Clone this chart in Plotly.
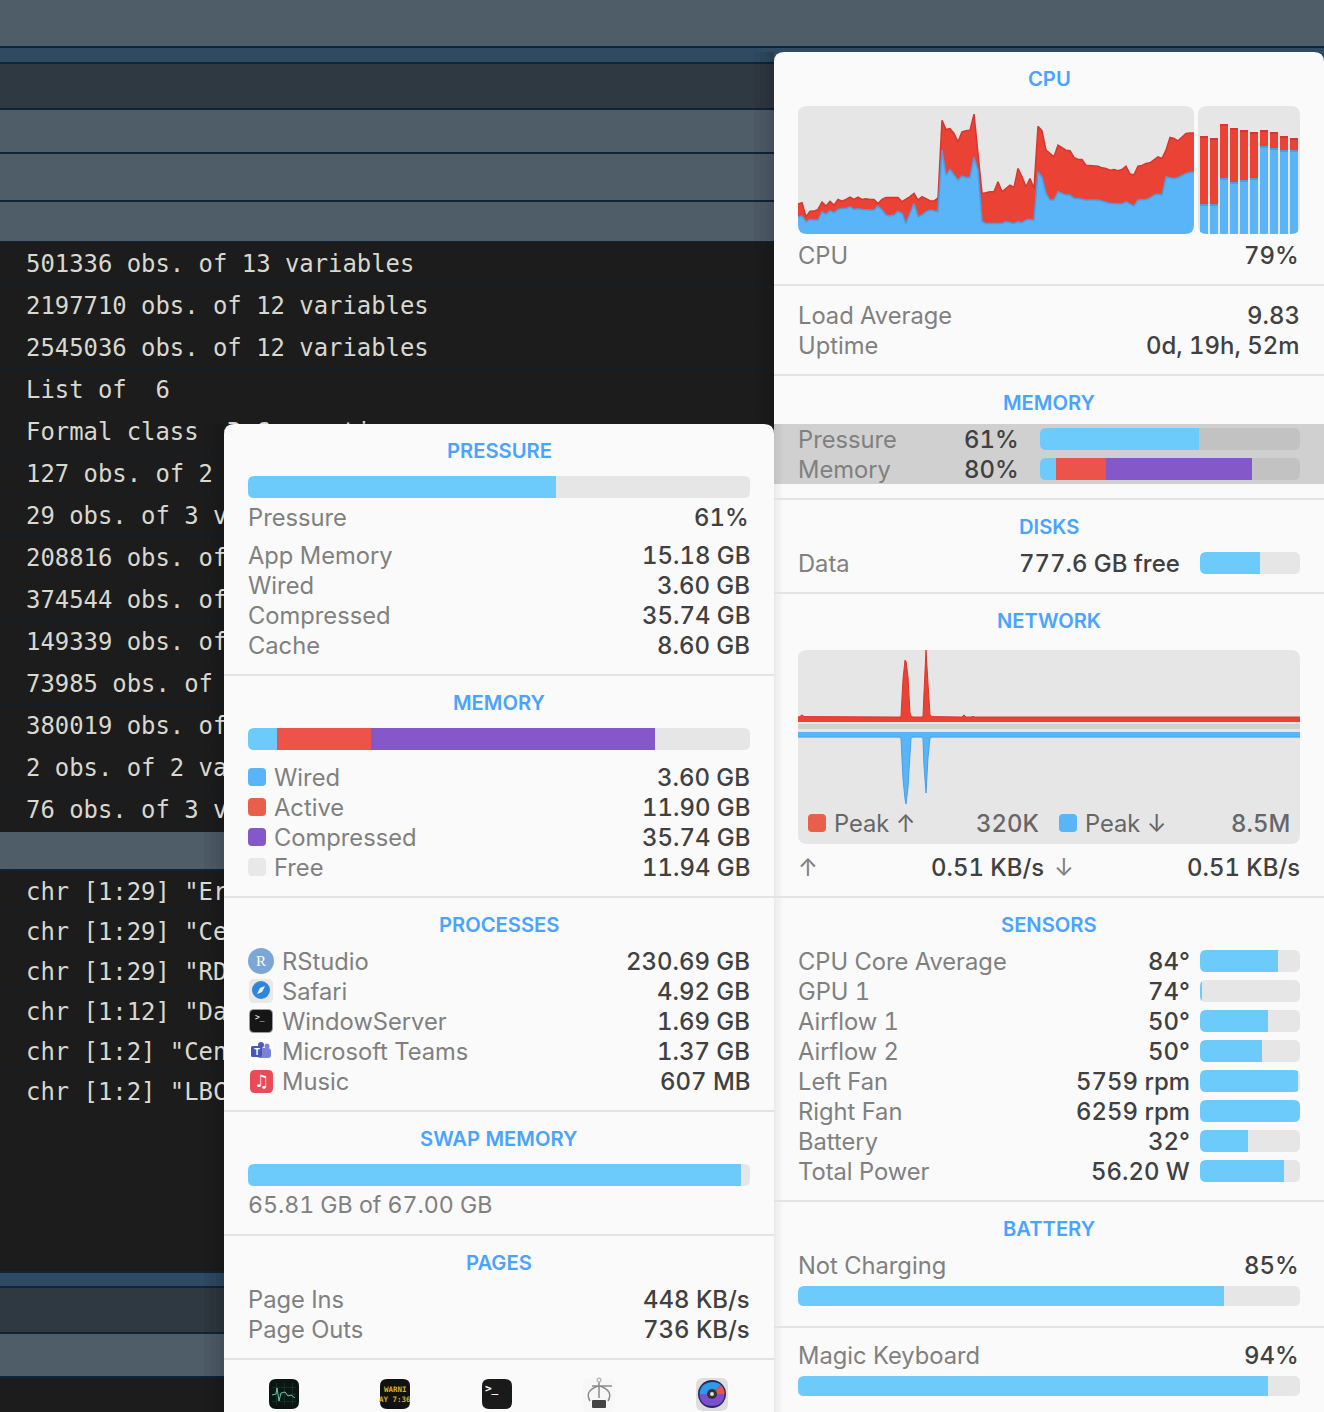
import plotly.graph_objects as go

W, H = 1324, 1412
FONT = 'Inter, Arial'
MONO = 'DejaVu Sans Mono, monospace'

STRIPE = '#4f5d69'
STRIPE_DK = '#2f3942'
STRIPE_BL = '#2f4a62'
RULE = '#0f2638'
TERM = '#1c1c1c'
PANEL = '#fafafa'
HILITE = '#d0d0d0'
DIV = '#e3e3e3'
TRACK = '#e6e6e6'
TRACK_HI = '#c2c2c2'
GRAPH = '#e6e6e6'
LABEL = '#808080'
VALUE = '#404040'
HEAD = '#4aa3ff'
METER = '#6dcbfb'
BLUE = '#5ab4f8'
BLUE_DK = '#4a9fe4'
RED = '#ea4335'
RED_DK = '#d8362c'
SEG_RED = '#ec534b'
PURPLE = '#8558c9'

# terminal text behind the panels, cut where the panel hides it
TERM_TOP = ['501336 obs. of 13 variables', '2197710 obs. of 12 variables', '2545036 obs. of 12 variables',
            'List of  6', 'R Connection']
TERM_ROWS = ['Formal class', '127 obs. of 2', '29 obs. of 3 v',
             '208816 obs. of', '374544 obs. of', '149339 obs. of',
             '73985 obs. of', '380019 obs. of', '2 obs. of 2 va',
             '76 obs. of 3 v']
TERM_CHR = ['chr [1:29] "Er', 'chr [1:29] "Ce', 'chr [1:29] "RD', 'chr [1:12] "Da',
            'chr [1:2] "Cen', 'chr [1:2] "LBC']

# cpu history, percent
CPU_TOTAL = [23.4, 24.4, 13.5, 17.7, 17.9, 19.2, 25, 21.8, 25.5, 22.6, 27, 25.7, 27, 28.9, 27, 28.9, 27, 27.6, 27, 27,
             23.9, 27, 28.6, 28.6, 28.6, 28.6, 25.2, 27, 29.2, 31.7, 26.5, 29.2, 27.8, 26, 25.7, 28.3, 88.9, 81.6, 82.4, 78.5,
             72, 79.8, 80.6, 81.1, 93.6, 62.9, 31.7, 32.2, 33, 33, 40.8, 33, 35.6, 38.2, 36.4, 51.2, 44.7, 36.9, 43.4, 35.6,
             84.2, 80.6, 65.5, 62.9, 60.3, 69.4, 67.6, 65.5, 65, 59.8, 58.2, 58.2, 53.8, 53.6, 53, 53, 51.7, 51.2, 49.9, 50.4,
             49.4, 50.4, 53, 46.8, 46.3, 53, 53.6, 55.1, 55.6, 58.2, 60.3, 59, 65.5, 75.4, 74.6, 72.8, 75.9, 78.5, 79, 79]
CPU_USER = [13, 14, 9.6, 11.4, 10.9, 10.9, 17.4, 15.6, 18.2, 16.6, 19.2, 20, 20, 21.3, 19.2, 19.8, 19.2, 18.7, 18.7, 18.7,
            21.8, 18.7, 14.8, 14, 14.8, 17.4, 16.1, 8.3, 16.1, 23.9, 13.5, 14.8, 17.4, 18.7, 18.2, 17.4, 65.5, 46, 50.4, 46,
            42.1, 45.2, 44.2, 44.2, 59.8, 49.9, 9.6, 8.3, 8.3, 8.3, 8.8, 8.3, 9.6, 8.8, 8.3, 9.6, 8.8, 10.9, 11.4, 10.9,
            48.6, 44.2, 31.7, 26.5, 26.5, 33, 31.7, 30.4, 30.4, 27.8, 27.8, 27, 26.5, 26.5, 26.5, 26.5, 25.7, 25, 23.9, 23.9,
            23.4, 23.4, 25.2, 23.4, 21.8, 26.5, 27, 27, 28.3, 30.4, 31.2, 30.4, 44.7, 44.2, 43.4, 44.2, 46, 47.3, 48.1, 48.4]
# per core cpu
CORE_TOTAL = [76.6, 75, 85.8, 82.7, 81.1, 79.6, 81.1, 79.6, 76.6, 75]
CORE_USER = [23.4, 23.4, 43.7, 40.6, 42.1, 43.7, 68.6, 67.1, 65.5, 65.5]

# network history, up in KB and down in MB
NET_X = [0, 2, 4, 6, 100, 102, 103, 105, 107, 108, 110, 112, 113, 115, 124, 125, 126, 128, 130, 132, 134,
         164, 166, 168, 173, 175, 177, 232, 234, 236, 502]
NET_UP = [22, 24, 32, 24, 22, 22, 28, 190, 275, 270, 200, 40, 26, 22, 22, 26, 130, 320, 170, 30, 24,
          22, 32, 22, 22, 25, 22, 22, 25, 22, 22]
NET_DOWN = [.6, .6, .6, .6, .6, .6, .8, 5.5, 7.9, 8.5, 6.5, 3, .7, .6, .6, .8, 4, 7.2, 3, .7, .6,
            .6, .6, .6, .6, .6, .6, .6, .6, .6, .6]

PRESSURE = 61
PRESSURE_BAR = 61.4
MEM_GB = [3.60, 11.90, 35.74, 11.94]
MEM_BAR = [6.2, 19.2, 56]
SWAP = [65.81, 67.00]
DISK_USED = 60
SENSOR_FILL = [78, 2, 68, 62, 98, 100, 48, 84]
BATTERY = 85
BATTERY_BAR = 84.8
KEYBOARD = 94
KEYBOARD_BAR = 93.6

PRESS_LABELS = ['App Memory', 'Wired', 'Compressed', 'Cache']
PRESS_VALUES = ['15.18 GB', '3.60 GB', '35.74 GB', '8.60 GB']
MEM_LABELS = ['Wired', 'Active', 'Compressed', 'Free']
MEM_VALUES = ['3.60 GB', '11.90 GB', '35.74 GB', '11.94 GB']
PROC_LABELS = ['RStudio', 'Safari', 'WindowServer', 'Microsoft Teams', 'Music']
PROC_VALUES = ['230.69 GB', '4.92 GB', '1.69 GB', '1.37 GB', '607 MB']
SENSOR_LABELS = ['CPU Core Average', 'GPU 1', 'Airflow 1', 'Airflow 2', 'Left Fan', 'Right Fan', 'Battery', 'Total Power']
SENSOR_VALUES = ['84°', '74°', '50°', '50°', '5759 rpm', '6259 rpm', '32°', '56.20 W']

fig = go.Figure()
shapes, notes, axes = [], [], {}
axis_no = [1]


def rect(x0, y0, x1, y1, fill, layer='below'):
    shapes.append(dict(type='rect', xref='x', yref='y', x0=x0, y0=y0, x1=x1, y1=y1,
                       fillcolor=fill, line_width=0, layer=layer))


def rr_path(x0, y0, x1, y1, r):
    return (f'M {x0+r} {y0} L {x1-r} {y0} Q {x1} {y0} {x1} {y0+r} L {x1} {y1-r} Q {x1} {y1} {x1-r} {y1} '
            f'L {x0+r} {y1} Q {x0} {y1} {x0} {y1-r} L {x0} {y0+r} Q {x0} {y0} {x0+r} {y0} Z')


def path(d, fill=None, layer='above', line=None, width=0):
    s = dict(type='path', xref='x', yref='y', path=d, layer=layer, line=dict(width=width, color=line or 'rgba(0,0,0,0)'))
    if fill:
        s['fillcolor'] = fill
    shapes.append(s)


def rrect(x0, y0, x1, y1, r, fill, layer='above'):
    path(rr_path(x0, y0, x1, y1, r), fill, layer)


def circle(cx, cy, r, fill, layer='above'):
    shapes.append(dict(type='circle', xref='x', yref='y', x0=cx-r, y0=cy-r, x1=cx+r, y1=cy+r,
                       fillcolor=fill, line_width=0, layer=layer))


def mask(x0, y0, x1, y1, r, bg):
    # rounds a plot area, the library only rounds the far end of bars
    d = (f'M {x0} {y0} L {x0+r} {y0} Q {x0} {y0} {x0} {y0+r} Z '
         f'M {x1} {y0} L {x1-r} {y0} Q {x1} {y0} {x1} {y0+r} Z '
         f'M {x0} {y1} L {x0+r} {y1} Q {x0} {y1} {x0} {y1-r} Z '
         f'M {x1} {y1} L {x1-r} {y1} Q {x1} {y1} {x1} {y1-r} Z')
    path(d, bg)


def txt(s, x, y, color=LABEL, size=23.7, anchor='left', weight=None, family=FONT):
    f = dict(family=family, size=size, color=color)
    if weight:
        f['weight'] = weight
    notes.append(dict(text=s, x=x, y=y, xref='x', yref='y', showarrow=False, xanchor=anchor, yanchor='middle',
                      font=f, borderpad=0, borderwidth=0))


def val(s, x, y, color=VALUE):
    txt(s, x, y, color, 23.9, 'right', 500)


def head(s, cx, y):
    txt(s, cx, y-1, HEAD, 20.2, 'center', 600)


def new_axes(x0, y0, x1, y1, xr, yr):
    axis_no[0] += 1
    n = axis_no[0]
    common = dict(visible=False, fixedrange=True)
    axes[f'xaxis{n}'] = dict(domain=[x0/W, x1/W], range=xr, anchor=f'y{n}', **common)
    axes[f'yaxis{n}'] = dict(domain=[1-y1/H, 1-y0/H], range=yr, anchor=f'x{n}', **common)
    return f'x{n}', f'y{n}'


def meter(x0, y0, x1, y1, vals, cols, total=100, bg=PANEL, track=TRACK, r=6):
    rect(x0, y0, x1, y1, track)
    xa, ya = new_axes(x0, y0, x1, y1, [0, total], [-.5, .5])
    for v, c in zip(vals, cols):
        fig.add_trace(go.Bar(x=[v], y=[0], orientation='h', width=1, marker=dict(color=c, line_width=0),
                             xaxis=xa, yaxis=ya, showlegend=False, hoverinfo='skip'))
    mask(x0, y0, x1, y1, r, bg)


# background stripes
rect(0, 0, W, H, TERM)
for y0, y1, c in [(0, 46, STRIPE), (48, 62, STRIPE_BL), (64, 108, STRIPE_DK), (110, 152, STRIPE), (154, 200, STRIPE),
                  (202, 242, STRIPE), (832, 869, STRIPE), (1272, 1286, STRIPE_BL), (1288, 1332, STRIPE_DK), (1334, 1376, STRIPE)]:
    rect(0, y0, W, y1, c)
for y in [46, 62, 108, 152, 200, 869, 1271, 1286, 1332, 1376]:
    rect(0, y, W, y+2, RULE)
rect(0, 241, W, 242, RULE)
for y in range(284, 830, 42):
    rect(0, y, W, y+1, '#10202e')
for y in range(910, 1110, 40):
    rect(0, y, W, y+1, '#10202e')
rect(15, 242, 16, 832, '#10202e')
rect(15, 870, 16, 1110, '#10202e')

# terminal text, clipped by its own plot areas
TERM_FONT = dict(family=MONO, size=23.9, color='#d8d8d0')
xa, ya = new_axes(0, 242, 774, 424, [0, 774], [424, 242])
fig.add_trace(go.Scatter(x=[26, 26, 26, 26, 227], y=[266, 308, 350, 392, 434], text=TERM_TOP, mode='text', textposition='middle right',
                         textfont=TERM_FONT, xaxis=xa, yaxis=ya, showlegend=False, hoverinfo='skip', cliponaxis=True))
xa, ya = new_axes(0, 420, 224, 1112, [0, 224], [1112, 420])
fig.add_trace(go.Scatter(x=[26]*(len(TERM_ROWS)+len(TERM_CHR)), y=[434 + 42*i for i in range(len(TERM_ROWS))] + [894 + 40*i for i in range(len(TERM_CHR))],
                         text=TERM_ROWS+TERM_CHR, mode='text', textposition='middle right',
                         textfont=TERM_FONT, xaxis=xa, yaxis=ya, showlegend=False, hoverinfo='skip', cliponaxis=True))

# panels and their soft shadows
for w in [20, 14, 8, 4]:
    rect(774-w, 52, 774, 424, 'rgba(0,0,0,0.035)')
    rect(224-w, 424, 224, H, 'rgba(0,0,0,0.035)')
path(f'M 774 {H} L 774 62 Q 774 52 784 52 L 1314 52 Q 1324 52 1324 62 L 1324 {H} Z', PANEL, 'below')
rect(774, 424, W, 484, HILITE)
path(f'M 224 {H} L 224 434 Q 224 424 234 424 L 764 424 Q 774 424 774 434 L 774 {H} Z', PANEL, 'below')
for w in [8, 5, 2]:
    rect(774, 424, 774+w, H, 'rgba(0,0,0,0.02)')
for y in [284, 374, 498, 592, 896, 1200, 1326]:
    rect(774, y, W, y+2, DIV)
for y in [674, 896, 1110, 1234, 1358]:
    rect(224, y, 774, y+2, DIV)

# cpu graph
rect(798, 106, 1194, 234, GRAPH)
xa, ya = new_axes(798, 106, 1194, 234, [0, len(CPU_TOTAL)-1], [0, 100])
idx = list(range(len(CPU_TOTAL)))
fig.add_trace(go.Scatter(x=idx, y=CPU_TOTAL, mode='lines', fill='tozeroy', fillcolor=RED, line=dict(color=RED_DK, width=1.5),
                         xaxis=xa, yaxis=ya, showlegend=False, hoverinfo='skip'))
fig.add_trace(go.Scatter(x=idx, y=CPU_USER, mode='lines', fill='tozeroy', fillcolor=BLUE, line=dict(color=BLUE_DK, width=1.5),
                         xaxis=xa, yaxis=ya, showlegend=False, hoverinfo='skip'))
mask(798, 106, 1194, 234, 9, PANEL)

# per core bars
rect(1198, 106, 1300, 234, GRAPH)
xa, ya = new_axes(1198, 106, 1300, 234, [-.6, 9.6], [0, 100])
CAP = 1.6
cores = list(range(len(CORE_USER)))
fig.add_trace(go.Bar(x=cores, y=[u-CAP for u in CORE_USER], width=.8, marker=dict(color=BLUE, line_width=0), xaxis=xa, yaxis=ya, showlegend=False, hoverinfo='skip'))
fig.add_trace(go.Bar(x=cores, y=[CAP]*10, width=.8, marker=dict(color=BLUE_DK, line_width=0), xaxis=xa, yaxis=ya, showlegend=False, hoverinfo='skip'))
fig.add_trace(go.Bar(x=cores, y=[t-u-CAP for t, u in zip(CORE_TOTAL, CORE_USER)], width=.8, marker=dict(color=RED, line_width=0), xaxis=xa, yaxis=ya, showlegend=False, hoverinfo='skip'))
fig.add_trace(go.Bar(x=cores, y=[CAP]*10, width=.8, marker=dict(color=RED_DK, line_width=0), xaxis=xa, yaxis=ya, showlegend=False, hoverinfo='skip'))
mask(1198, 106, 1300, 234, 9, PANEL)

# network graph
rect(798, 650, 1300, 844, GRAPH)
rect(798, 724, 1300, 729, '#d2d2d2')
xa, ya = new_axes(798, 650, 1300, 722, [0, 502], [0, 320])
fig.add_trace(go.Scatter(x=NET_X, y=NET_UP, mode='lines', fill='tozeroy', fillcolor=RED, line=dict(color=RED_DK, width=1),
                         xaxis=xa, yaxis=ya, showlegend=False, hoverinfo='skip'))
xa, ya = new_axes(798, 732, 1300, 804, [0, 502], [8.5, 0])
fig.add_trace(go.Scatter(x=NET_X, y=NET_DOWN, mode='lines', fill='tozeroy', fillcolor=BLUE, line=dict(color=BLUE_DK, width=1),
                         xaxis=xa, yaxis=ya, showlegend=False, hoverinfo='skip'))
mask(798, 650, 1300, 844, 9, PANEL)
rrect(808, 814, 826, 832, 4, '#e8604a')
rrect(1059, 814, 1077, 832, 4, BLUE)
txt('Peak ↑', 834, 823, '#666666')
val('320K', 1039, 823, '#666666')
txt('Peak ↓', 1085, 823, '#666666')
val('8.5M', 1290, 823, '#666666')
txt('↑', 798, 867, LABEL)
val('0.51 KB/s', 1044, 867)
txt('↓', 1054, 867, LABEL)
val('0.51 KB/s', 1300, 867)

# right panel text and meters
RC = 1049
head('CPU', RC, 79)
txt('CPU', 798, 255)
val('79%', 1299, 255)
txt('Load Average', 798, 315)
val('9.83', 1300, 315)
txt('Uptime', 798, 345)
val('0d, 19h, 52m', 1300, 345)
head('MEMORY', RC, 403)
txt('Pressure', 798, 439)
val(f'{PRESSURE}%', 1019, 439)
meter(1040, 428, 1300, 450, [PRESSURE], [METER], bg=HILITE, track=TRACK_HI)
txt('Memory', 798, 469)
val('80%', 1019, 469)
meter(1040, 458, 1300, 480, MEM_BAR, [METER, SEG_RED, PURPLE], bg=HILITE, track=TRACK_HI)
head('DISKS', RC, 527)
txt('Data', 798, 563)
val('777.6 GB free', 1180, 563)
meter(1200, 552, 1300, 574, [DISK_USED], [METER])
head('NETWORK', RC, 621)
head('SENSORS', RC, 925)
for i, (lab, v, fill) in enumerate(zip(SENSOR_LABELS, SENSOR_VALUES, SENSOR_FILL)):
    y = 961 + 30*i
    txt(lab, 798, y)
    val(v, 1190, y)
    meter(1200, y-11, 1300, y+11, [fill], [METER])
head('BATTERY', RC, 1229)
txt('Not Charging', 798, 1265)
val(f'{BATTERY}%', 1299, 1265)
meter(798, 1286, 1300, 1306, [BATTERY_BAR], [METER])
txt('Magic Keyboard', 798, 1355)
val(f'{KEYBOARD}%', 1299, 1355)
meter(798, 1376, 1300, 1396, [KEYBOARD_BAR], [METER])

# left panel
LC = 499
head('PRESSURE', LC, 451)
meter(248, 476, 750, 498, [PRESSURE_BAR], [METER])
txt('Pressure', 248, 517)
val(f'{PRESSURE}%', 749, 517)
for i, (lab, v) in enumerate(zip(PRESS_LABELS, PRESS_VALUES)):
    txt(lab, 248, 555+30*i)
    val(v, 750, 555+30*i)
head('MEMORY', LC, 703)
meter(248, 728, 750, 750, MEM_GB[:3], [METER, SEG_RED, PURPLE], total=sum(MEM_GB))
for i, (lab, v, c) in enumerate(zip(MEM_LABELS, MEM_VALUES, [BLUE, '#e8604a', PURPLE, '#e8e8e8'])):
    y = 777 + 30*i
    rrect(248, y-9, 266, y+9, 4, c)
    txt(lab, 274, y)
    val(v, 750, y)
head('PROCESSES', LC, 925)
for i, (lab, v) in enumerate(zip(PROC_LABELS, PROC_VALUES)):
    txt(lab, 282, 961+30*i)
    val(v, 750, 961+30*i)
head('SWAP MEMORY', LC, 1139)
meter(248, 1164, 750, 1186, [SWAP[0]], [METER], total=SWAP[1])
txt(f'{SWAP[0]:.2f} GB of {SWAP[1]:.2f} GB', 248, 1205, size=23.1)
head('PAGES', LC, 1263)
txt('Page Ins', 248, 1299)
val('448 KB/s', 750, 1299)
txt('Page Outs', 248, 1329)
val('736 KB/s', 750, 1329)

# process icons
circle(261, 961, 13, '#7ba7d8')
txt('R', 261, 961, 'white', 15, 'center', family='Liberation Serif')
rrect(249, 979, 273, 1003, 5, '#e8e8e8')
circle(261, 990, 9, '#2f86d8')
path('M 265 986 L 262 992 L 257 994 L 260 988 Z', '#f2f2f2')
rrect(249, 1009, 273, 1033, 5, '#9a9a9a')
rrect(250, 1010, 272, 1032, 4, '#161616')
txt('>_', 255, 1017, 'white', 8, family='DejaVu Sans Mono')
rrect(249, 1039, 273, 1063, 5, 'white')
circle(267, 1046, 2.5, '#7b83d6')
circle(261, 1045, 3, '#5059c9')
rrect(257, 1048, 271, 1058, 3, '#7b83d6')
rrect(251, 1046, 262, 1057, 1.5, '#4b53bc')
txt('T', 256.5, 1051.5, 'white', 9, 'center', 700)
rrect(250, 1070, 273, 1093, 5, '#ec4a58')
txt('♫', 261.5, 1081, 'white', 17, 'center', family='DejaVu Sans')

# dock icons
rrect(269, 1379, 299, 1409, 7, '#0b1512')
for p in [276, 284, 292]:
    rect(p, 1383, p+.6, 1405, '#1f3d35', 'above')
for p in [1387, 1394, 1401]:
    rect(272, p, 296, p+.6, '#1f3d35', 'above')
path('M 272 1395 L 276 1394 L 277 1388 L 279 1401 L 281 1393 L 285 1392 L 288 1396 L 291 1395 L 295 1398', None, line='#63c9a8', width=1)
rrect(380, 1379, 410, 1409, 7, '#111111')
txt('WARNI', 395, 1389, '#d4b028', 7.5, 'center', 700, 'DejaVu Sans Mono')
txt('AY 7:36', 395, 1399, '#d4b028', 7.5, 'center', 700, 'DejaVu Sans Mono')
rrect(482, 1379, 512, 1409, 7, '#1a1a1a')
txt('>_', 492, 1388, 'white', 11, 'center', 700, 'DejaVu Sans Mono')
rrect(583, 1378, 615, 1412, 7, '#f7f7f7')
path('M 590 1401 Q 584 1391 598 1386 M 608 1401 Q 614 1391 600 1386 M 599 1380 L 599 1398 M 592 1386 L 612 1386',
     None, line='#8a8a8a', width=1.5)
circle(599, 1380, 2.5, '#b5b5b5')
circle(599, 1380, 1.2, '#f7f7f7')
rrect(592, 1400, 606, 1408, 1, '#444444')
rrect(696, 1378, 728, 1411, 7, '#dedede')
circle(712, 1394, 14, '#222a5a')
path('M 699.5 1394 Q 700 1383 712 1382 Q 718 1382 721 1385 L 712 1394 Z', '#2f9ae8')
path('M 699.5 1394 L 712 1394 L 724.5 1394 Q 724 1406 712 1406 Q 700 1406 699.5 1394 Z', '#7b4fd0')
path('M 721 1385 Q 725 1389 724.5 1394 L 712 1394 Z', '#e8544a')
circle(712, 1394, 5, '#333333')
circle(712, 1394, 2, '#dddddd')

fig.update_layout(
    width=W, height=H, margin=dict(l=0, r=0, t=0, b=0),
    paper_bgcolor=TERM, plot_bgcolor='rgba(0,0,0,0)', barmode='stack', showlegend=False,
    xaxis=dict(domain=[0, 1], range=[0, W], visible=False, fixedrange=True),
    yaxis=dict(domain=[0, 1], range=[H, 0], visible=False, fixedrange=True),
    shapes=shapes, annotations=notes, **axes,
)
fig.add_trace(go.Scatter(x=[0], y=[0], mode='none', showlegend=False, hoverinfo='skip'))
# tabular digits like the original; the size nudge makes plotly measure the texts again
fig.write_html('out.html', config=dict(displayModeBar=False),
               post_script="document.body.style.margin='0';document.body.style.overflow='hidden';"
                           "var s=document.createElement('style');s.textContent='svg text{font-feature-settings:\"tnum\" 1}';"
                           "document.head.appendChild(s);var gd=document.getElementById('{plot_id}');"
                           "gd.layout.annotations.forEach(function(a){a.font.size+=0.01;});Plotly.redraw(gd);")
